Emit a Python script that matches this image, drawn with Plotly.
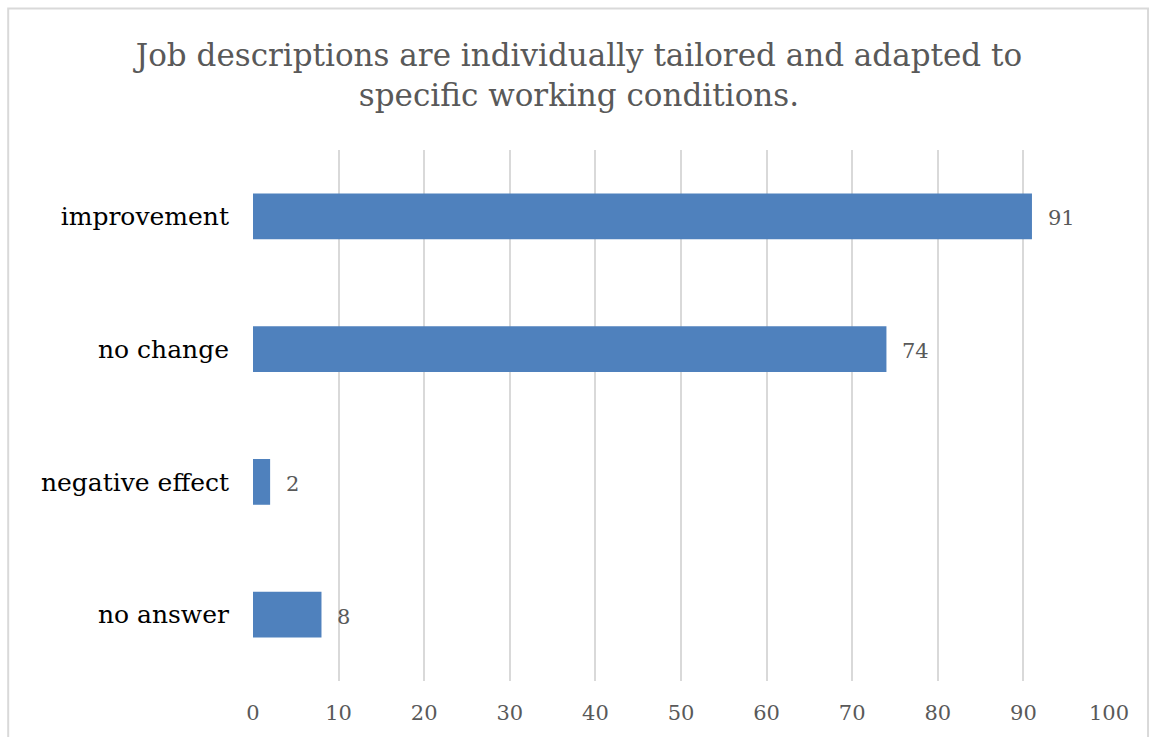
import plotly.graph_objects as go

categories = ["improvement", "no change", "negative effect", "no answer"]
values = [91, 74, 2, 8]
x_ticks = [0, 10, 20, 30, 40, 50, 60, 70, 80, 90, 100]

FONT = "DejaVu Serif"

fig = go.Figure()
fig.add_trace(go.Bar(
    y=categories, x=values, orientation="h",
    marker=dict(color="#4f81bd", line=dict(width=0)),
    hoverinfo="skip",
))

for c, v in zip(categories, values):
    fig.add_annotation(x=v, y=c, text=str(v), showarrow=False,
                       xanchor="left", xshift=14, yshift=-2,
                       font=dict(family=FONT, size=21, color="#595959"))

fig.add_shape(type="rect", xref="paper", yref="paper",
              x0=-0.286, x1=1.0456, y0=-0.15, y1=1.2664,
              line=dict(color="#d9d9d9", width=2), layer="below")

fig.update_layout(
    width=1151, height=737,
    margin=dict(l=253, r=42, t=150, b=54),
    paper_bgcolor="white", plot_bgcolor="white",
    bargap=0.655,
    showlegend=False,
    title=dict(text="Job descriptions are individually tailored and adapted to<br>specific working conditions.",
               x=0.503, xanchor="center", y=0.911, yanchor="middle",
               font=dict(family=FONT, size=31, color="#595959")),
    xaxis=dict(range=[0, 100], tickvals=x_ticks, showgrid=True,
               gridcolor="#d9d9d9", gridwidth=2, zeroline=False,
               showline=False, ticks="", ticklabelstandoff=17,
               tickfont=dict(family=FONT, size=21, color="#595959")),
    yaxis=dict(categoryorder="array", categoryarray=categories[::-1],
               showgrid=False, zeroline=False, showline=False, ticks="",
               ticklabelstandoff=23,
               tickfont=dict(family=FONT, size=25, color="#000000")),
)

fig.write_html("out.html")
